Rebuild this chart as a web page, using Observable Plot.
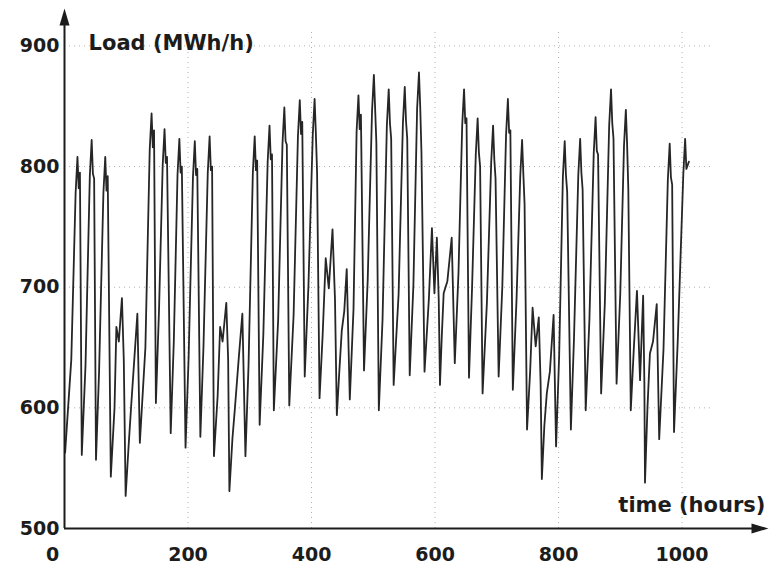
<!DOCTYPE html>
<html>
<head>
<meta charset="utf-8">
<script src="https://cdn.jsdelivr.net/npm/d3@7"></script>
<script src="https://cdn.jsdelivr.net/npm/@observablehq/plot@0.6"></script>
<style>
  html, body { margin: 0; padding: 0; background: #fff; }
</style>
</head>
<body>
<div id="chart"></div>
<script>
// Hourly load: turning points (hour, MWh/h), one day per line
const hours = [
  1, 11, 18, 21, 23, 25,
  28, 34, 41, 44, 46, 48,
  51, 56, 63, 66, 68, 70,
  75, 81, 84, 88, 93, 96,
  99, 104, 108, 113, 118,
  122, 131, 138, 141, 143, 145,
  148, 153, 159, 162, 164, 166,
  172, 177, 183, 186, 188, 190,
  196, 201, 208, 211, 213, 215,
  220, 225, 232, 235, 237, 239,
  242, 248, 252, 256, 262, 265,
  267, 272, 276, 282, 288,
  293, 298, 305, 308, 310, 312,
  316, 322, 329, 332, 334, 336,
  339, 346, 353, 356, 358, 360,
  364, 371, 378, 381, 383, 385,
  389, 395, 402, 405, 407, 409,
  413, 418, 423, 428, 434, 438,
  441, 445, 449, 453, 457,
  462, 468, 473, 476, 478, 480,
  485, 491, 498, 501, 503, 505,
  509, 515, 522, 525, 527, 529,
  533, 541, 548, 551, 553, 555,
  559, 565, 571, 574, 576, 578,
  583, 590, 595, 599, 603, 606,
  608, 611, 614, 620, 627,
  632, 638, 644, 647, 649, 651,
  655, 660, 666, 669, 671, 673,
  677, 684, 691, 694, 696, 698,
  703, 709, 715, 718, 720, 722,
  726, 732, 738, 741, 743, 745,
  749, 754, 758, 763, 768, 771,
  773, 777, 781, 786, 792,
  796, 801, 807, 810, 812, 814,
  820, 825, 832, 835, 837, 839,
  844, 850, 857, 860, 862, 864,
  869, 875, 882, 885, 887, 889,
  894, 900, 906, 909, 911, 913,
  917, 922, 927, 932, 937, 939,
  940, 944, 948, 953, 959,
  963, 970, 977, 980, 982, 984,
  987, 993, 1002, 1005, 1007, 1011
];
const load = [
  563, 640, 778, 808, 782, 795,
  561, 635, 792, 822, 794, 790,
  557, 630, 778, 808, 780, 792,
  543, 600, 667, 655, 691, 640,
  527, 570, 602, 640, 678,
  571, 650, 814, 844, 816, 830,
  604, 680, 801, 831, 803, 808,
  579, 655, 793, 823, 795, 800,
  567, 642, 791, 821, 793, 798,
  576, 650, 795, 825, 797, 800,
  560, 610, 667, 655, 687, 640,
  531, 575, 600, 640, 678,
  560, 635, 795, 825, 797, 805,
  586, 661, 804, 834, 806, 810,
  598, 673, 819, 849, 821, 818,
  602, 677, 825, 855, 827, 837,
  626, 701, 826, 856, 828, 795,
  608, 660, 724, 699, 748, 690,
  594, 630, 664, 680, 715,
  607, 682, 829, 859, 831, 843,
  631, 706, 846, 876, 848, 820,
  598, 673, 834, 864, 836, 823,
  619, 694, 836, 866, 838, 823,
  627, 702, 848, 878, 850, 812,
  630, 690, 749, 695, 741, 690,
  619, 660, 695, 705, 741,
  637, 712, 834, 864, 836, 840,
  625, 700, 810, 840, 812, 800,
  612, 687, 804, 834, 806, 790,
  626, 701, 826, 856, 828, 830,
  615, 690, 792, 822, 794, 769,
  582, 630, 683, 651, 675, 620,
  541, 585, 612, 630, 677,
  568, 643, 791, 821, 793, 779,
  582, 657, 793, 823, 795, 781,
  598, 673, 811, 841, 813, 810,
  612, 687, 834, 864, 836, 823,
  620, 695, 817, 847, 819, 781,
  598, 650, 697, 623, 693, 620,
  538, 600, 645, 655, 686,
  574, 649, 789, 819, 791, 785,
  580, 655, 793, 823, 798, 804
];
const yTicks = [500, 600, 700, 800, 900];
const xTicks = [0, 200, 400, 600, 800, 1000];
const yLabel = "Load (MWh/h)";
const xLabel = "time (hours)";

const series = hours.map((h, i) => ({hour: h, load: load[i]}));

const arrowHead = {
  draw(ctx) {
    ctx.moveTo(0, -17);
    ctx.lineTo(5, 0);
    ctx.lineTo(-5, 0);
    ctx.closePath();
  }
};

const ink = "#1c1c1c";

const chart = Plot.plot({
  width: 770,
  height: 576,
  marginLeft: 64,
  marginRight: 2,
  marginTop: 8,
  marginBottom: 48,
  x: {domain: [0, 1140], axis: null},
  y: {domain: [500, 931], axis: null},
  style: {
    fontFamily: "'DejaVu Sans', sans-serif",
    fontWeight: "bold",
    fontSize: "19px",
    color: ink,
    background: "#fff",
    overflow: "visible"
  },
  marks: [
    Plot.ruleX(xTicks.slice(1), {y1: 500, y2: 912, stroke: "#b0b0b0", strokeDasharray: "1,4", strokeWidth: 1}),
    Plot.ruleY(yTicks.slice(1), {x1: 0, x2: 1050, stroke: "#b0b0b0", strokeDasharray: "1,4", strokeWidth: 1}),
    Plot.line(series, {x: "hour", y: "load", stroke: "#262626", strokeWidth: 1.8, strokeLinejoin: "round"}),
    Plot.ruleX([0], {y1: 500, y2: 925, stroke: ink, strokeWidth: 2}),
    Plot.ruleY([500], {x1: 0, x2: 1130, stroke: ink, strokeWidth: 2}),
    Plot.dot([{x: 0, y: 931}], {x: "x", y: "y", symbol: arrowHead, fill: ink, stroke: null, dy: 17}),
    Plot.dot([{x: 1140, y: 500}], {x: "x", y: "y", symbol: arrowHead, fill: ink, stroke: null, rotate: 90, dx: -17}),
    Plot.text(yTicks, {x: 0, y: d => d, text: d => String(d), textAnchor: "end", dx: -5, fill: ink}),
    Plot.text(xTicks.slice(1), {x: d => d, y: 500, text: d => String(d), dy: 26, fill: ink}),
    Plot.text(xTicks.slice(0, 1), {x: d => d, y: 500, text: d => String(d), dy: 26, dx: -12, fill: ink}),
    Plot.text([yLabel], {x: 39, y: 900, text: d => d, textAnchor: "start", fontSize: 21, dy: -3, fill: ink}),
    Plot.text([xLabel], {x: 1135, y: 519, text: d => d, textAnchor: "end", fontSize: 21, fill: ink})
  ]
});

document.getElementById("chart").appendChild(chart);
</script>
</body>
</html>
